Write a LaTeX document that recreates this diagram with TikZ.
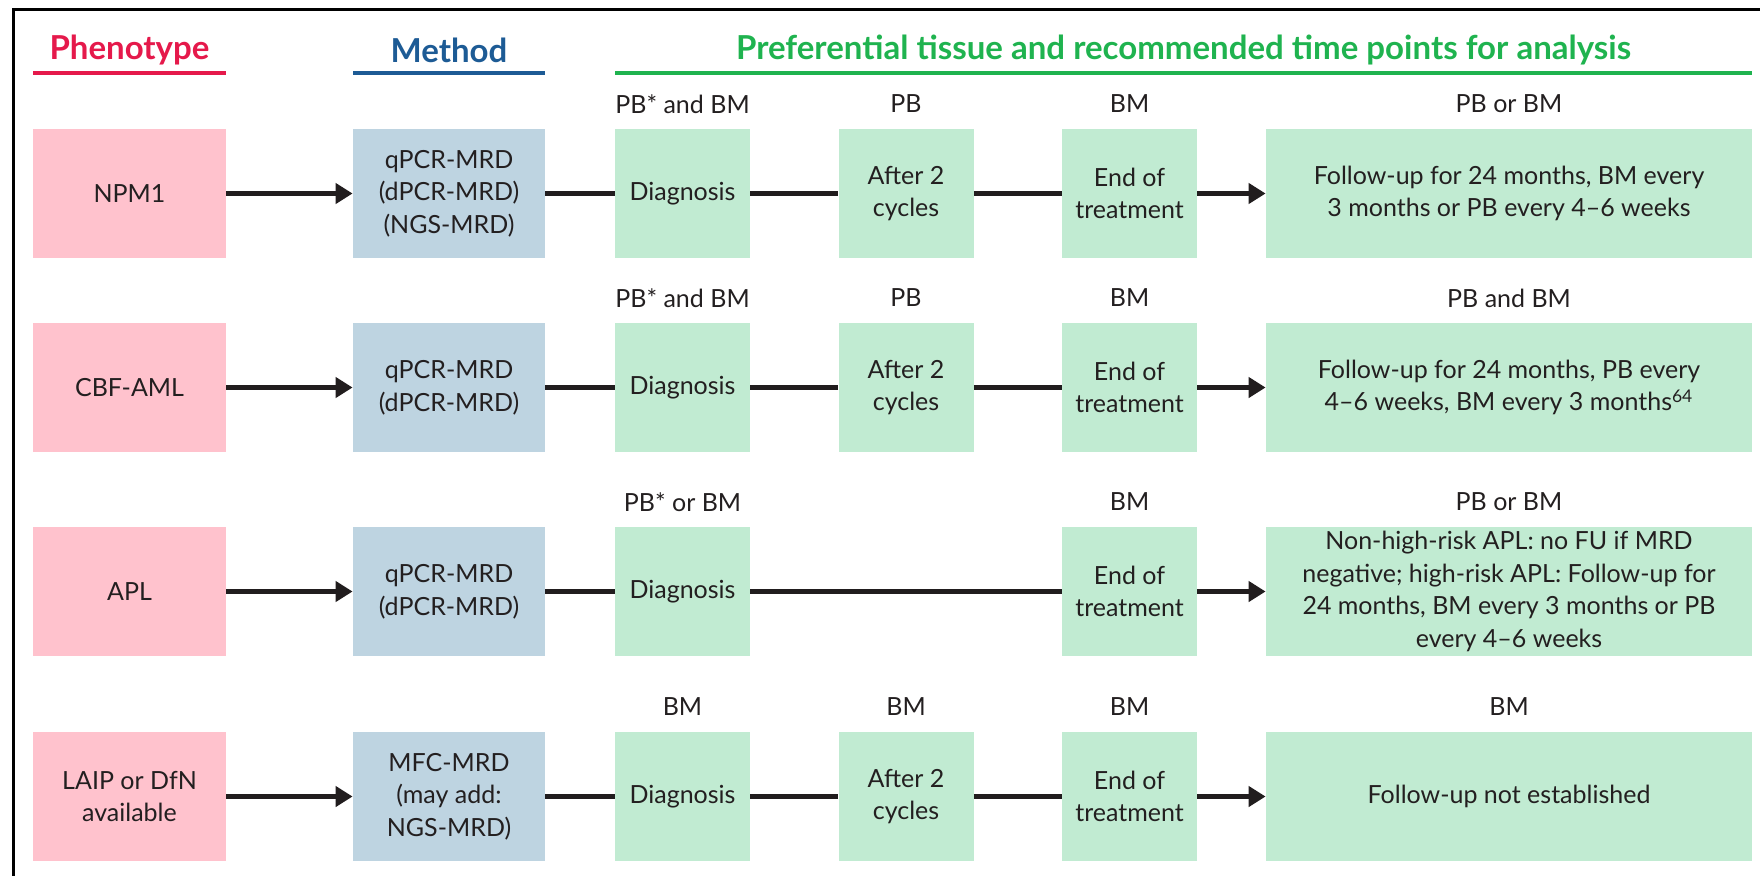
\documentclass[tikz,border=0pt]{standalone}
\usepackage{fontspec}
\setmainfont{Lato}
\usetikzlibrary{arrows.meta}
\definecolor{pinkfill}{HTML}{FFC2CD}
\definecolor{bluefill}{HTML}{BED4E1}
\definecolor{greenfill}{HTML}{C1EBD2}
\definecolor{hred}{HTML}{E5194B}
\definecolor{hblue}{HTML}{1D5B95}
\definecolor{hgreen}{HTML}{1FB34F}
\definecolor{ink}{HTML}{231F20}
\tikzset{
  boxbase/.style={inner sep=0pt, minimum height=64.5pt, align=center, font=\fontsize{12.5}{16.3}\selectfont, text=ink},
  phenobox/.style={boxbase, fill=pinkfill, minimum width=96.5pt},
  methodbox/.style={boxbase, fill=bluefill, minimum width=96pt},
  smallbox/.style={boxbase, fill=greenfill, minimum width=67.5pt},
  fubox/.style={boxbase, fill=greenfill, minimum width=243pt},
  tlabel/.style={inner sep=0pt, font=\fontsize{12.5}{16}\selectfont, text=ink},
  header/.style={inner sep=0pt, font=\fontsize{16.5}{19}\selectfont\bfseries},
  uline/.style={line width=2pt},
  conn/.style={draw=ink!95!black, line width=2.2pt},
  arr/.style={conn, -{Triangle[length=8.5pt,width=10pt]}}
}
\begin{document}
\begin{tikzpicture}[x=0.5pt,y=-0.5pt]
\useasboundingbox (0,0) rectangle (1760,875);
% frame
\draw[line width=1.5pt, black] (13,880) -- (13,9) -- (1765,9);
% headers
\node[header, text=hred] (hp) at (129.5,50) {Phenotype};
\node[header, text=hblue] (hm) at (449,50) {Method};
\node[header, text=hgreen] (ht) at (1183.5,50) {Preferential tissue and recommended time points for analysis};
\draw[uline, hred] (33,73) -- (226,73);
\draw[uline, hblue] (353,73) -- (545,73);
\draw[uline, hgreen] (615,73) -- (1752,73);

% Row 1
\node[phenobox] (p1) at (129.5,193.5) {NPM1};
\node[methodbox] (m1) at (449,193.5) {qPCR-MRD\\(dPCR-MRD)\\(NGS-MRD)};
\node[smallbox] (d1) at (682.5,193.5) {Diagnosis};
\node[smallbox] (a1) at (906,193.5) {After 2\\cycles};
\node[smallbox] (e1) at (1129.5,193.5) {End of\\treatment};
\node[fubox] (f1) at (1509,193.5) {Follow-up for 24 months, BM every\\3 months or PB every 4--6 weeks};
\node[tlabel] (ld1) at (682.5,104) {PB* and BM};
\node[tlabel] (la1) at (906,104) {PB};
\node[tlabel] (le1) at (1129.5,104) {BM};
\node[tlabel] (lf1) at (1509,104) {PB or BM};
\draw[arr] (p1) -- (m1);
\draw[conn] (m1) -- (d1);
\draw[conn] (d1) -- (a1);
\draw[conn] (a1) -- (e1);
\draw[arr] (e1) -- (f1);

% Row 2
\node[phenobox] (p2) at (129.5,387.5) {CBF-AML};
\node[methodbox] (m2) at (449,387.5) {qPCR-MRD\\(dPCR-MRD)};
\node[smallbox] (d2) at (682.5,387.5) {Diagnosis};
\node[smallbox] (a2) at (906,387.5) {After 2\\cycles};
\node[smallbox] (e2) at (1129.5,387.5) {End of\\treatment};
\node[fubox] (f2) at (1509,387.5) {Follow-up for 24 months, PB every\\4--6 weeks, BM every 3 months\textsuperscript{64}};
\node[tlabel] (ld2) at (682.5,298) {PB* and BM};
\node[tlabel] (la2) at (906,298) {PB};
\node[tlabel] (le2) at (1129.5,298) {BM};
\node[tlabel] (lf2) at (1509,298) {PB and BM};
\draw[arr] (p2) -- (m2);
\draw[conn] (m2) -- (d2);
\draw[conn] (d2) -- (a2);
\draw[conn] (a2) -- (e2);
\draw[arr] (e2) -- (f2);

% Row 3
\node[phenobox] (p3) at (129.5,591.5) {APL};
\node[methodbox] (m3) at (449,591.5) {qPCR-MRD\\(dPCR-MRD)};
\node[smallbox] (d3) at (682.5,591.5) {Diagnosis};
\node[smallbox] (e3) at (1129.5,591.5) {End of\\treatment};
\node[fubox] (f3) at (1509,591.5) {Non-high-risk APL: no FU if MRD\\negative; high-risk APL: Follow-up for\\24 months, BM every 3 months or PB\\every 4--6 weeks};
\node[tlabel] (ld3) at (682.5,502) {PB* or BM};
\node[tlabel] (le3) at (1129.5,502) {BM};
\node[tlabel] (lf3) at (1509,502) {PB or BM};
\draw[arr] (p3) -- (m3);
\draw[conn] (m3) -- (d3);
\draw[conn] (d3) -- (e3);
\draw[arr] (e3) -- (f3);

% Row 4
\node[phenobox] (p4) at (129.5,796.5) {LAIP or DfN\\available};
\node[methodbox] (m4) at (449,796.5) {MFC-MRD\\(may add:\\NGS-MRD)};
\node[smallbox] (d4) at (682.5,796.5) {Diagnosis};
\node[smallbox] (a4) at (906,796.5) {After 2\\cycles};
\node[smallbox] (e4) at (1129.5,796.5) {End of\\treatment};
\node[fubox] (f4) at (1509,796.5) {Follow-up not established};
\node[tlabel] (ld4) at (682.5,707) {BM};
\node[tlabel] (la4) at (906,707) {BM};
\node[tlabel] (le4) at (1129.5,707) {BM};
\node[tlabel] (lf4) at (1509,707) {BM};
\draw[arr] (p4) -- (m4);
\draw[conn] (m4) -- (d4);
\draw[conn] (d4) -- (a4);
\draw[conn] (a4) -- (e4);
\draw[arr] (e4) -- (f4);
\end{tikzpicture}
\end{document}
